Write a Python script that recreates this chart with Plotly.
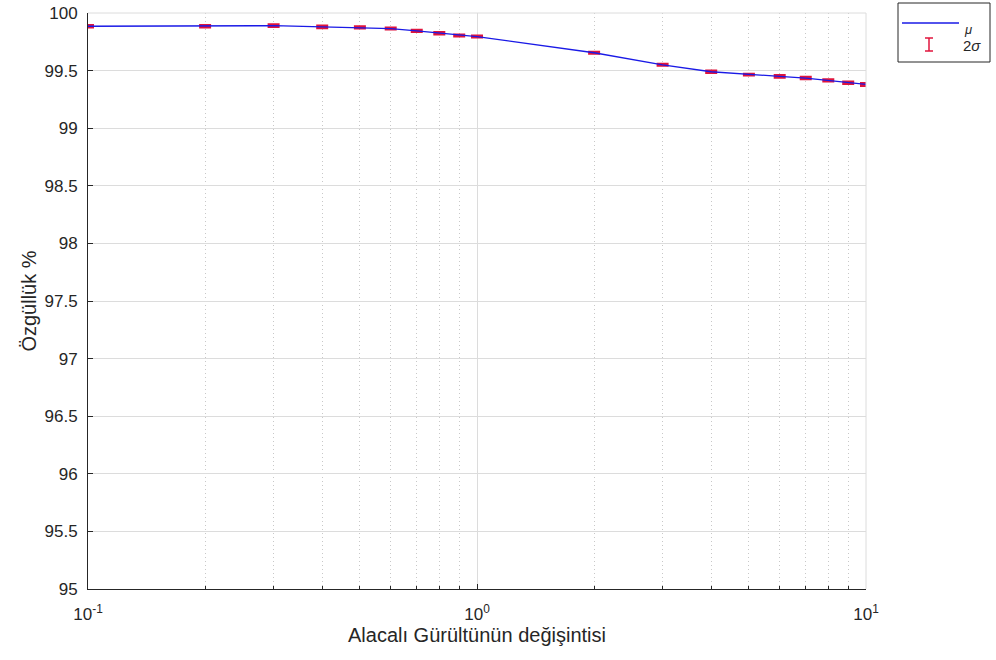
import plotly.graph_objects as go

noise_var = [0.1, 0.2, 0.3, 0.4, 0.5, 0.6, 0.7, 0.8, 0.9, 1.0,
             2, 3, 4, 5, 6, 7, 8, 9, 10]
mu = [99.885, 99.885, 99.89, 99.88, 99.875, 99.865, 99.845, 99.825, 99.805, 99.795,
      99.655, 99.55, 99.49, 99.465, 99.45, 99.435, 99.415, 99.395, 99.38]
two_sigma = [0.008, 0.008, 0.01, 0.009, 0.007, 0.006, 0.007, 0.008, 0.006, 0.006,
             0.006, 0.006, 0.009, 0.006, 0.009, 0.008, 0.008, 0.008, 0.01]

x_tickvals = [0.1, 1, 10]
x_ticktext = ["10<sup>-1</sup>", "10<sup>0</sup>", "10<sup>1</sup>"]
x_minorvals = [0.2, 0.3, 0.4, 0.5, 0.6, 0.7, 0.8, 0.9, 2, 3, 4, 5, 6, 7, 8, 9]
y_tickvals = [95, 95.5, 96, 96.5, 97, 97.5, 98, 98.5, 99, 99.5, 100]
y_ticktext = ["95", "95.5", "96", "96.5", "97", "97.5", "98", "98.5", "99", "99.5", "100"]

W, H = 996, 660
L, R, T, B = 88, 130, 13, 71
pw, ph = W - L - R, H - T - B

def px(x):
    return (x - L) / pw

def py(y):
    return (H - B - y) / ph

fig = go.Figure()
# error bars (2 sigma)
fig.add_trace(go.Scatter(
    x=noise_var, y=mu, mode="markers",
    marker=dict(size=1, color="rgba(0,0,0,0)"),
    error_y=dict(type="data", array=two_sigma, color="#e0143c", thickness=2.6, width=6),
    showlegend=False, hoverinfo="skip"))
# mean line
fig.add_trace(go.Scatter(
    x=noise_var, y=mu, mode="lines", line=dict(color="#1a1ae6", width=1.3),
    showlegend=False))

font = dict(family="Liberation Sans, Arial, sans-serif", size=17, color="#262626")

fig.update_layout(
    width=W, height=H,
    margin=dict(l=L, r=R, t=T, b=B, autoexpand=False),
    paper_bgcolor="white", plot_bgcolor="white",
    font=font,
    showlegend=False,
    xaxis=dict(
        type="log", range=[-1, 1], automargin=False,
        tickvals=x_tickvals, ticktext=x_ticktext,
        ticks="inside", ticklen=5, tickcolor="#262626",
        showgrid=True, gridcolor="#dcdcdc", gridwidth=1,
        minor=dict(tickmode="array", tickvals=x_minorvals,
                   showgrid=True, gridcolor="#c8c8c8", griddash="1px,3px",
                   ticks="inside", ticklen=3, tickcolor="#262626"),
        showline=True, linecolor="#262626", linewidth=1, mirror=False,
        zeroline=False,
        ticklabelstandoff=10,
        title=dict(text="Alacalı Gürültünün değişintisi", font=dict(size=20), standoff=2),
        tickfont=dict(size=17),
    ),
    yaxis=dict(
        range=[95, 100], automargin=False,
        tickvals=y_tickvals, ticktext=y_ticktext,
        ticks="inside", ticklen=5, tickcolor="#262626",
        showgrid=True, gridcolor="#dcdcdc", gridwidth=1,
        showline=True, linecolor="#262626", linewidth=1, mirror=False,
        zeroline=False,
        ticklabelstandoff=6,
        title=dict(text="Özgüllük %", font=dict(size=20), standoff=2),
        tickfont=dict(size=17),
    ),
    shapes=[
        # top and right border (light)
        dict(type="line", xref="paper", yref="paper", x0=0, x1=1, y0=1, y1=1,
             line=dict(color="#dcdcdc", width=1)),
        dict(type="line", xref="paper", yref="paper", x0=1, x1=1, y0=0, y1=1,
             line=dict(color="#dcdcdc", width=1)),
        # legend box
        dict(type="rect", xref="paper", yref="paper",
             x0=px(898), x1=px(990), y0=py(62), y1=py(3),
             line=dict(color="#262626", width=1), fillcolor="white"),
        # legend line sample
        dict(type="line", xref="paper", yref="paper",
             x0=px(902), x1=px(959), y0=py(23), y1=py(23),
             line=dict(color="#1a1ae6", width=1.3)),
        # legend error bar icon
        dict(type="line", xref="paper", yref="paper",
             x0=px(929), x1=px(929), y0=py(51), y1=py(38),
             line=dict(color="#e0143c", width=1.5)),
        dict(type="line", xref="paper", yref="paper",
             x0=px(925), x1=px(933), y0=py(38), y1=py(38),
             line=dict(color="#e0143c", width=1.5)),
        dict(type="line", xref="paper", yref="paper",
             x0=px(925), x1=px(933), y0=py(51), y1=py(51),
             line=dict(color="#e0143c", width=1.5)),
    ],
    annotations=[
        dict(text="<i>μ</i>", xref="paper", yref="paper", x=px(962), y=py(29),
             xanchor="left", yanchor="middle", showarrow=False,
             font=dict(size=13, color="#262626")),
        dict(text="2<i>σ</i>", xref="paper", yref="paper", x=px(961), y=py(45),
             xanchor="left", yanchor="middle", showarrow=False,
             font=dict(size=15, color="#262626")),
    ],
)

fig.write_html("out.html")
